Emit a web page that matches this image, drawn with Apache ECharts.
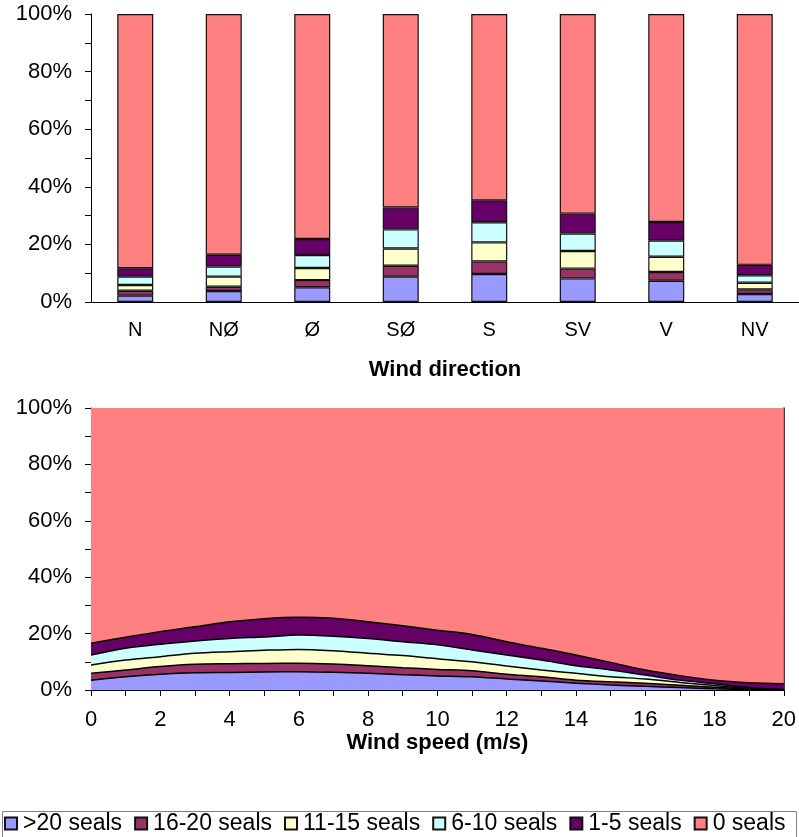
<!DOCTYPE html>
<html>
<head>
<meta charset="utf-8">
<script src="https://cdn.jsdelivr.net/npm/echarts@6/dist/echarts.min.js"></script>
<style>
  html, body { margin: 0; padding: 0; background: #fff; }
  #chart { width: 799px; height: 837px; }
</style>
</head>
<body>
<div id="chart"></div>
<script>
// categories
var directions = ["N", "NØ", "Ø", "SØ", "S", "SV", "V", "NV"];
var speeds = ["0", "1", "2", "3", "4", "5", "6", "7", "8", "9", "10", "11", "12", "13", "14", "15", "16", "17", "18", "19", "20"];
var seriesNames = [">20 seals", "16-20 seals", "11-15 seals", "6-10 seals", "1-5 seals", "0 seals"];
var seriesColors = ["#9999ff", "#993366", "#ffffcc", "#ccffff", "#660066", "#ff8080"];

// percentages per wind direction (top chart)
var dirOver20 = [2.2, 3.8, 5.1, 8.8, 9.7, 8.2, 7.4, 2.8];
var dir16to20 = [1.7, 1.5, 2.5, 3.8, 4.4, 3.4, 3.0, 1.6];
var dir11to15 = [2.0, 3.5, 4.2, 6.0, 6.6, 6.1, 5.3, 2.3];
var dir6to10 = [2.9, 3.5, 4.5, 6.6, 7.0, 6.1, 5.6, 2.6];
var dir1to5 = [2.9, 4.1, 5.6, 7.6, 7.6, 6.9, 6.5, 3.6];
var dirZero = [88.3, 83.6, 78.1, 67.2, 64.7, 69.3, 72.2, 87.1];

// percentages per wind speed (bottom chart)
var spdOver20 = [3.5, 4.7, 5.6, 6.1, 6.2, 6.4, 6.5, 6.3, 5.9, 5.4, 5.0, 4.7, 3.9, 3.2, 2.4, 1.8, 1.3, 0.9, 0.4, 0.1, 0];
var spd16to20 = [2.4, 2.4, 2.7, 3.0, 3.1, 3.0, 3.0, 2.9, 2.7, 2.5, 2.3, 2.1, 1.7, 1.5, 1.1, 1.1, 1.1, 0.8, 0.6, 0.2, 0.05];
var spd11to15 = [3.0, 3.5, 3.5, 3.9, 4.3, 4.7, 4.9, 4.7, 4.4, 4.3, 3.8, 3.2, 2.9, 2.4, 2.4, 1.8, 1.5, 1.0, 0.6, 0.3, 0.05];
var spd6to10 = [3.5, 4.2, 4.4, 4.4, 4.7, 4.7, 5.1, 5.2, 5.3, 4.9, 4.9, 4.2, 3.9, 3.5, 2.7, 2.4, 1.4, 0.8, 0.6, 0.2, 0.1];
var spd1to5 = [4.2, 3.9, 4.5, 5.0, 5.9, 6.5, 6.3, 6.3, 5.9, 5.7, 5.2, 5.5, 4.7, 4.2, 3.8, 2.7, 1.8, 1.6, 1.3, 1.8, 2.0];
var spdZero = [83.4, 81.3, 79.3, 77.6, 75.8, 74.7, 74.2, 74.6, 75.8, 77.2, 78.8, 80.3, 82.9, 85.2, 87.6, 90.2, 92.9, 94.9, 96.5, 97.4, 97.8];

var dirData = [dirOver20, dir16to20, dir11to15, dir6to10, dir1to5, dirZero];
var spdData = [spdOver20, spd16to20, spd11to15, spd6to10, spd1to5, spdZero];

var fontFam = "Liberation Sans, Arial, sans-serif";

function yAxisFor(gridIdx) {
  return {
    type: "value",
    gridIndex: gridIdx,
    min: 0,
    max: 100,
    interval: 10,
    splitLine: { show: false },
    axisLine: { show: true, lineStyle: { color: "#000", width: 1 } },
    axisTick: { show: true, length: 6, lineStyle: { color: "#000" } },
    axisLabel: {
      color: "#000",
      fontSize: 22,
      fontFamily: fontFam,
      margin: 19,
      formatter: function (v) {
        return v % 20 === 0 ? v + "%" : "";
      }
    }
  };
}

var series = [];
seriesNames.forEach(function (name, i) {
  series.push({
    name: name,
    type: "bar",
    stack: "dir",
    xAxisIndex: 0,
    yAxisIndex: 0,
    barWidth: 36,
    data: dirData[i],
    itemStyle: { color: seriesColors[i], borderColor: "#111", borderWidth: 1.2 },
    emphasis: { disabled: true }
  });
});
seriesNames.forEach(function (name, i) {
  series.push({
    name: name,
    type: "line",
    stack: "spd",
    xAxisIndex: 1,
    yAxisIndex: 1,
    symbol: "none",
    smooth: i === 5 ? false : 0.3,
    data: spdData[i],
    itemStyle: { color: seriesColors[i], borderColor: "#111", borderWidth: 1.2 },
    lineStyle: { color: "#000", width: i === 5 ? 0 : 1.5 },
    areaStyle: { color: seriesColors[i], opacity: 1 },
    emphasis: { disabled: true }
  });
});

// black right edge of the area plot
var rightEdge = {
  type: "value",
  gridIndex: 1,
  position: "right",
  min: 0,
  max: 100,
  splitLine: { show: false },
  axisTick: { show: false },
  axisLabel: { show: false },
  axisLine: { show: true, lineStyle: { color: "#000", width: 1.5 } }
};

var option = {
  animation: false,
  backgroundColor: "#fff",
  textStyle: { fontFamily: fontFam },
  grid: [
    { left: 91, top: 14, width: 714, height: 288 },
    { left: 91, top: 408, width: 696, height: 282 }
  ],
  xAxis: [
    {
      type: "category",
      gridIndex: 0,
      data: directions,
      name: "Wind direction",
      nameLocation: "middle",
      nameGap: 57,
      nameTextStyle: { color: "#000", fontSize: 22, fontWeight: "bold", fontFamily: fontFam },
      axisLine: { lineStyle: { color: "#000" } },
      axisTick: { length: 6, lineStyle: { color: "#000" } },
      axisLabel: { color: "#000", fontSize: 20, margin: 18, fontFamily: fontFam }
    },
    {
      type: "category",
      gridIndex: 1,
      data: speeds,
      boundaryGap: false,
      name: "Wind speed (m/s)",
      nameLocation: "middle",
      nameGap: 41,
      nameTextStyle: { color: "#000", fontSize: 22, fontWeight: "bold", fontFamily: fontFam },
      axisLine: { lineStyle: { color: "#000" } },
      axisTick: { length: 6, interval: 0, lineStyle: { color: "#000" } },
      axisLabel: { color: "#000", fontSize: 22, margin: 19, interval: 1, fontFamily: fontFam }
    }
  ],
  yAxis: [yAxisFor(0), yAxisFor(1), rightEdge],
  legend: {
    left: 4,
    top: 812,
    padding: 0,
    icon: "rect",
    itemWidth: 12,
    itemHeight: 12,
    itemGap: 12,
    data: seriesNames,
    textStyle: { color: "#000", fontSize: 23, fontFamily: fontFam, padding: [0, 0, 0, 1] }
  },
  graphic: [
    {
      type: "rect",
      shape: { x: 2.5, y: 811.5, width: 794, height: 40 },
      style: { fill: "none", stroke: "#808080", lineWidth: 1 },
      z: 100
    }
  ],
  series: series
};

var chart = echarts.init(document.getElementById("chart"));
chart.setOption(option);
</script>
</body>
</html>
